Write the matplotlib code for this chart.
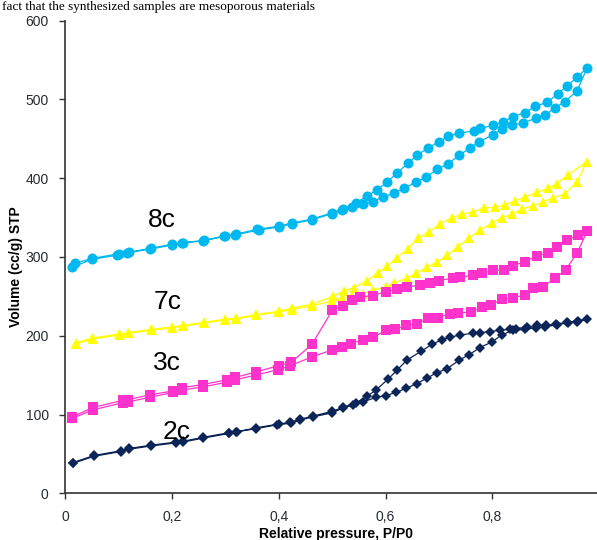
import numpy as np
import matplotlib
matplotlib.use("Agg")
import matplotlib.pyplot as plt

# Isotermas de adsorcao/dessorcao (P/P0, volume cc/g STP)
p_8c_ads = [0.013, 0.05, 0.096, 0.115, 0.159, 0.2, 0.218, 0.257, 0.297, 0.318, 0.362, 0.401, 0.425,
            0.462, 0.5, 0.518, 0.537, 0.558, 0.576, 0.595, 0.616, 0.635, 0.657, 0.676, 0.696, 0.717,
            0.738, 0.758, 0.775, 0.801, 0.818, 0.837, 0.857, 0.882, 0.899, 0.917, 0.936, 0.959, 0.978]
v_8c_ads = [287, 297, 302, 305, 310, 315, 318, 320, 326, 328, 334, 338, 342,
            347, 355, 359, 363, 367, 370, 376, 381, 387, 395, 401, 411, 418,
            429, 438, 446, 455, 462, 467, 470, 476, 480, 489, 497, 511, 540]
p_8c_des = [0.959, 0.940, 0.923, 0.902, 0.880, 0.861, 0.839, 0.820, 0.802, 0.777, 0.766, 0.738, 0.717,
            0.700, 0.679, 0.659, 0.642, 0.621, 0.603, 0.584, 0.565, 0.545, 0.52, 0.5, 0.462, 0.425,
            0.40, 0.36, 0.32, 0.30, 0.26, 0.22, 0.2, 0.16, 0.12, 0.1, 0.05, 0.018]
v_8c_des = [528, 517, 507, 496, 491, 483, 478, 471, 467, 463, 460, 457, 453,
            446, 438, 429, 419, 406, 395, 385, 377, 369, 361, 356, 348, 343,
            339, 335, 329, 327, 321, 318, 316, 311, 306, 304, 298, 292]

p_7c_ads = [0.02, 0.052, 0.102, 0.118, 0.162, 0.199, 0.221, 0.26, 0.299, 0.32, 0.358, 0.399, 0.424,
            0.462, 0.5, 0.518, 0.537, 0.558, 0.577, 0.601, 0.616, 0.640, 0.657, 0.678, 0.696, 0.715,
            0.736, 0.757, 0.777, 0.8, 0.818, 0.837, 0.856, 0.877, 0.895, 0.914, 0.936, 0.959, 0.977]
v_7c_ads = [190, 196, 201, 203, 207, 210, 212, 216, 220, 221, 226, 230, 233,
            238, 244, 248, 250, 253, 258, 262, 267, 273, 279, 287, 293, 302,
            313, 324, 334, 343, 350, 354, 361, 365, 370, 375, 380, 395, 421]
p_7c_des = [0.942, 0.921, 0.905, 0.884, 0.861, 0.843, 0.824, 0.805, 0.785, 0.764, 0.743, 0.725, 0.702,
            0.682, 0.661, 0.642, 0.621, 0.603, 0.586, 0.565, 0.541, 0.522, 0.502, 0.462, 0.424, 0.40,
            0.358, 0.32, 0.299, 0.26, 0.22, 0.2, 0.16, 0.12, 0.1, 0.05, 0.02]
v_7c_des = [404, 393, 387, 382, 376, 371, 366, 363, 362, 357, 354, 350, 342,
            332, 324, 310, 299, 288, 280, 270, 261, 257, 250, 240, 235, 231,
            227, 222, 221, 217, 213, 211, 208, 204, 202, 197, 191]

p_3c_ads = [0.013, 0.052, 0.108, 0.118, 0.159, 0.202, 0.218, 0.258, 0.302, 0.318, 0.357, 0.399, 0.421,
            0.462, 0.5, 0.518, 0.535, 0.558, 0.577, 0.601, 0.618, 0.638, 0.659, 0.680, 0.698, 0.721,
            0.736, 0.760, 0.781, 0.798, 0.818, 0.839, 0.861, 0.876, 0.895, 0.918, 0.938, 0.959, 0.978]
v_3c_ads = [95, 106, 115, 116, 122, 128, 131, 135, 141, 144, 150, 157, 162,
            173, 182, 186, 190, 195, 198, 207, 208, 213, 215, 222, 223, 228,
            229, 230, 236, 239, 246, 248, 252, 261, 262, 273, 284, 305, 333]
p_3c_des = [0.961, 0.940, 0.922, 0.905, 0.883, 0.861, 0.839, 0.822, 0.802, 0.781, 0.764, 0.740, 0.726,
            0.701, 0.683, 0.665, 0.640, 0.621, 0.601, 0.577, 0.552, 0.537, 0.520, 0.5, 0.462, 0.423,
            0.40, 0.357, 0.318, 0.302, 0.258, 0.218, 0.202, 0.159, 0.118, 0.108, 0.052, 0.013]
v_3c_des = [328, 321, 312, 305, 301, 294, 289, 284, 283, 279, 277, 274, 273,
            270, 267, 264, 262, 259, 256, 251, 249, 245, 238, 232, 189, 166,
            162, 154, 147, 144, 138, 134, 130, 125, 119, 118, 109, 97]

p_2c_ads = [0.014, 0.054, 0.104, 0.12, 0.16, 0.207, 0.22, 0.258, 0.307, 0.321, 0.357, 0.397, 0.423,
            0.44, 0.464, 0.499, 0.52, 0.539, 0.558, 0.583, 0.601, 0.619, 0.638, 0.658, 0.677, 0.696,
            0.715, 0.738, 0.757, 0.777, 0.799, 0.818, 0.839, 0.861, 0.881, 0.899, 0.921, 0.942, 0.959, 0.978]
v_2c_ads = [38, 47, 53, 56, 60, 64, 65, 70, 76, 78, 82, 87, 89,
            93, 97, 102, 108, 112, 116, 122, 124, 128, 133, 139, 146, 153,
            158, 169, 176, 185, 192, 201, 207, 208, 210, 211, 214, 216, 218, 221]
p_2c_des = [0.96, 0.94, 0.92, 0.90, 0.883, 0.865, 0.845, 0.833, 0.814, 0.795, 0.777, 0.764, 0.740,
            0.721, 0.706, 0.687, 0.666, 0.640, 0.621, 0.605, 0.582, 0.565, 0.545, 0.52, 0.5, 0.464,
            0.44, 0.42, 0.4, 0.357, 0.32, 0.307, 0.258, 0.22, 0.207, 0.16, 0.12, 0.104, 0.054, 0.014]
v_2c_des = [219, 217, 215, 213, 213, 211, 209, 208, 207, 205, 204, 203, 201,
            198, 195, 189, 180, 169, 156, 145, 131, 123, 115, 109, 104, 98,
            94, 90, 88, 83, 78, 77, 71, 66, 65, 61, 57, 54, 48, 39]

amostras = [
    ("8c", p_8c_ads + p_8c_des, v_8c_ads + v_8c_des, "#00B8F0", "o", 7.2, (0.181, 347)),
    ("7c", p_7c_ads + p_7c_des, v_7c_ads + v_7c_des, "#FFFF00", "^", 7.0, (0.192, 243)),
    ("3c", p_3c_ads + p_3c_des, v_3c_ads + v_3c_des, "#FF33CC", "s", 6.5, (0.190, 165)),
    ("2c", p_2c_ads + p_2c_des, v_2c_ads + v_2c_des, "#0B2559", "D", 4.8, (0.209, 78)),
]

fig = plt.figure(figsize=(5.97, 5.40), dpi=100)
ax = fig.add_axes([65.4 / 597, 1 - 493.3 / 540, 533.6 / 597, 472.8 / 540])

for nome, p, v, cor, marc, tam, (tx, ty) in amostras:
    ax.plot(p, v, color=cor, marker=marc, markersize=tam, linewidth=0.9,
            markeredgewidth=0, clip_on=False)
    ax.text(tx, ty, nome, fontsize=19, family="Liberation Sans", ha="center", va="center")

ax.set_xlim(0, 1.0)
ax.set_ylim(0, 600)
ax.set_xticks([0, 0.2, 0.4, 0.6, 0.8])
ax.set_xticklabels(["0", "0,2", "0,4", "0,6", "0,8"])
ax.set_yticks(range(0, 601, 100))
for s in ["top", "right"]:
    ax.spines[s].set_visible(False)
for s in ["left", "bottom"]:
    ax.spines[s].set_linewidth(1.2)
    ax.spines[s].set_color("#333333")
ax.tick_params(direction="out", length=4, width=1, color="#333333", pad=8,
               labelsize=10, labelcolor="#262b33")
for lbl in ax.get_xticklabels() + ax.get_yticklabels():
    lbl.set_family("Liberation Sans")

ax.set_ylabel("Volume (cc/g) STP", fontsize=10, fontweight="bold", family="Liberation Sans")
ax.yaxis.set_label_coords(-0.079, 0.48)
fig.text(336 / 597, 2 / 540, "Relative pressure, P/P0", fontsize=10, fontweight="bold",
         family="Liberation Sans", ha="center", va="baseline")

# texto do documento no topo
fig.text(0.004, 1 - 10 / 540, "fact that the synthesized samples are mesoporous materials",
         fontsize=9.5, family="Liberation Serif", ha="left", va="baseline")

fig.savefig("out.png", dpi=100)
